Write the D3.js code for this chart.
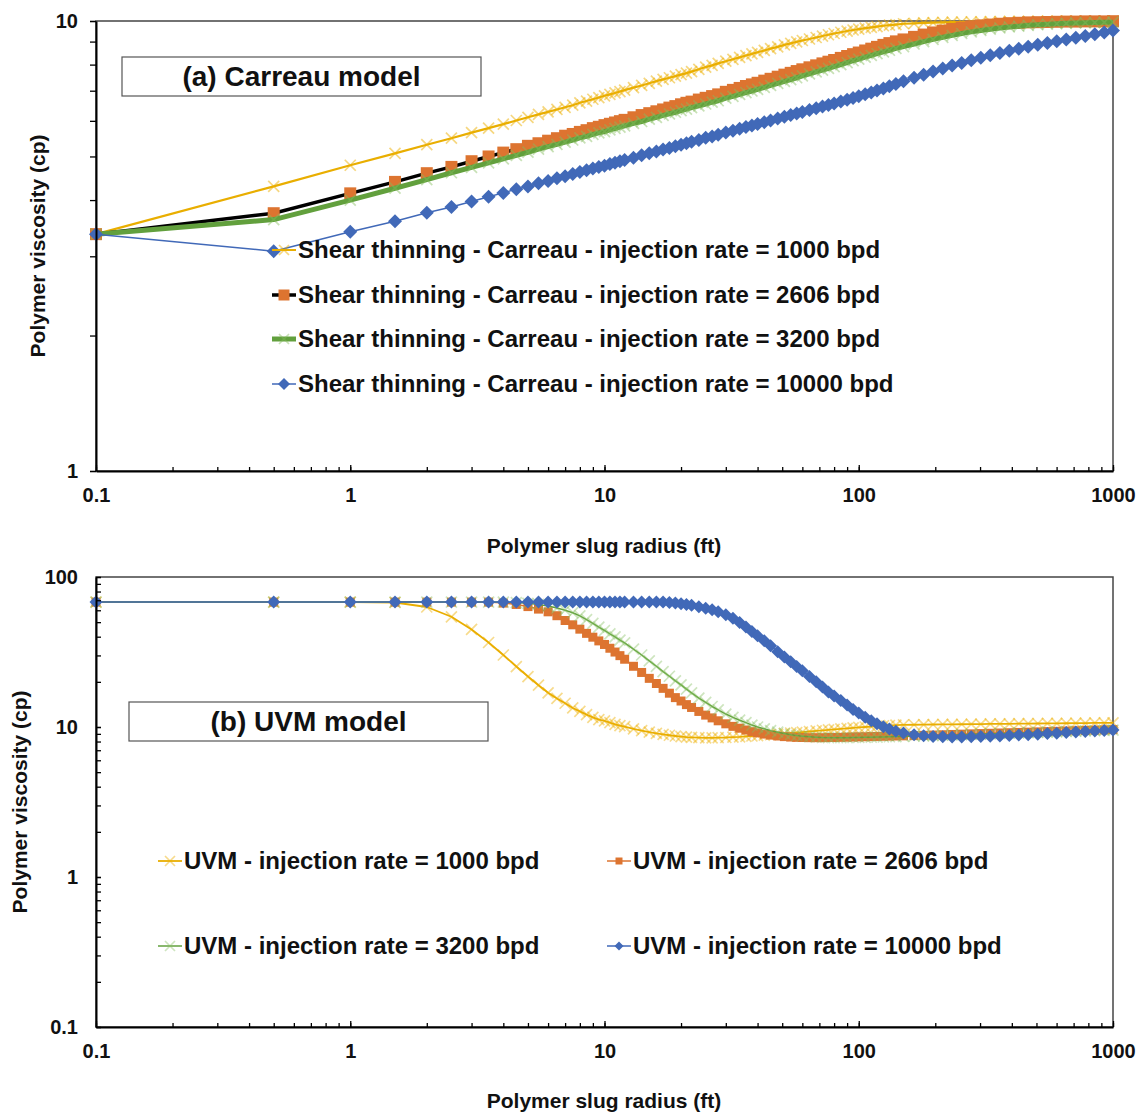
<!DOCTYPE html>
<html>
<head>
<meta charset="utf-8">
<script src="https://cdn.jsdelivr.net/npm/d3@7"></script>
<style>
  body { margin: 0; background: #fff; }
  svg { font-family: "Liberation Sans", Arial, sans-serif; font-weight: bold; }
</style>
</head>
<body>
<svg width="1143" height="1114"></svg>
<script>
(function() {
  // radial grid of the simulation (ft)
  var radius = [0.1, 0.5, 1, 1.5, 2, 2.5, 3, 3.5, 4, 4.5, 5, 5.5, 6, 6.5, 7, 7.5, 8, 8.5, 9, 9.5,
    10, 10.5, 11, 11.5, 12, 13, 14, 15, 16, 17, 18, 19, 20, 21, 22, 23.5, 25, 26.5, 28,
    30, 32, 34, 36, 38, 40, 42.5, 45, 48, 51, 54, 57, 60, 64, 68, 72, 76, 80, 85, 90, 95, 100,
    106, 112, 118, 125, 132, 140, 150,
    165, 180, 196, 214, 233, 254, 277, 302, 329, 359, 391, 426, 464, 506, 552, 601, 655, 714, 778, 848, 924, 1000];

  // (a) Carreau model, viscosity (cp)
  var carreau1000 = [3.36, 4.29, 4.78, 5.08, 5.31, 5.49, 5.65, 5.78, 5.90, 6.01, 6.11, 6.20, 6.28, 6.36, 6.43, 6.50, 6.58, 6.64, 6.70, 6.76,
    6.82, 6.87, 6.92, 6.97, 7.02, 7.11, 7.19, 7.27, 7.35, 7.42, 7.48, 7.54, 7.60, 7.66, 7.72, 7.81, 7.90, 7.97, 8.05,
    8.14, 8.22, 8.30, 8.38, 8.45, 8.52, 8.60, 8.68, 8.76, 8.85, 8.92, 8.99, 9.05, 9.12, 9.19, 9.26, 9.32, 9.38, 9.44, 9.50, 9.55, 9.59,
    9.64, 9.68, 9.72, 9.76, 9.79, 9.82, 9.86,
    9.88, 9.90, 9.92, 9.93, 9.94, 9.95, 9.96, 9.96, 9.97, 9.97, 9.98, 9.98, 9.98, 9.99, 9.99, 9.99, 9.99, 10, 10, 10, 10, 10];
  var carreau2606 = [3.36, 3.74, 4.14, 4.39, 4.59, 4.74, 4.88, 5.00, 5.10, 5.19, 5.28, 5.35, 5.42, 5.49, 5.56, 5.61, 5.67, 5.72, 5.78, 5.82,
    5.87, 5.91, 5.95, 5.99, 6.03, 6.11, 6.18, 6.24, 6.30, 6.36, 6.42, 6.47, 6.53, 6.58, 6.62, 6.69, 6.75, 6.81, 6.87,
    6.96, 7.03, 7.10, 7.17, 7.23, 7.29, 7.37, 7.44, 7.52, 7.60, 7.67, 7.74, 7.81, 7.89, 7.97, 8.05, 8.12, 8.19, 8.28, 8.36, 8.44, 8.51,
    8.60, 8.68, 8.76, 8.85, 8.93, 9.01, 9.10,
    9.22, 9.33, 9.43, 9.52, 9.60, 9.67, 9.73, 9.78, 9.82, 9.86, 9.89, 9.91, 9.93, 9.94, 9.95, 9.96, 9.97, 9.97, 9.98, 9.98, 9.98, 9.99];
  var carreau3200 = [3.36, 3.62, 4.00, 4.25, 4.44, 4.60, 4.73, 4.84, 4.94, 5.03, 5.11, 5.19, 5.26, 5.32, 5.38, 5.44, 5.50, 5.54, 5.60, 5.64,
    5.68, 5.73, 5.77, 5.81, 5.85, 5.92, 5.98, 6.05, 6.11, 6.17, 6.22, 6.27, 6.32, 6.37, 6.42, 6.48, 6.54, 6.60, 6.65,
    6.74, 6.80, 6.87, 6.93, 6.99, 7.05, 7.12, 7.19, 7.27, 7.34, 7.41, 7.48, 7.55, 7.63, 7.71, 7.78, 7.85, 7.92, 8.00, 8.08, 8.16, 8.23,
    8.31, 8.39, 8.46, 8.54, 8.61, 8.69, 8.77,
    8.89, 9.00, 9.10, 9.20, 9.29, 9.38, 9.46, 9.53, 9.59, 9.65, 9.70, 9.74, 9.78, 9.81, 9.84, 9.86, 9.88, 9.90, 9.91, 9.92, 9.93, 9.94];
  var carreau10000 = [3.36, 3.08, 3.40, 3.59, 3.75, 3.86, 3.97, 4.07, 4.15, 4.23, 4.29, 4.36, 4.41, 4.47, 4.52, 4.57, 4.62, 4.66, 4.70, 4.74,
    4.77, 4.81, 4.84, 4.88, 4.91, 4.97, 5.03, 5.08, 5.13, 5.18, 5.22, 5.27, 5.31, 5.35, 5.39, 5.44, 5.50, 5.54, 5.59,
    5.65, 5.70, 5.76, 5.81, 5.86, 5.90, 5.96, 6.01, 6.07, 6.13, 6.18, 6.23, 6.28, 6.34, 6.40, 6.46, 6.51, 6.56, 6.62, 6.68, 6.74, 6.80,
    6.87, 6.94, 7.01, 7.08, 7.16, 7.24, 7.35,
    7.48, 7.60, 7.72, 7.84, 7.96, 8.07, 8.18, 8.29, 8.39, 8.49, 8.59, 8.68, 8.77, 8.86, 8.94, 9.02, 9.10, 9.18, 9.26, 9.34, 9.43, 9.52];

  // (b) UVM model, viscosity (cp)
  var uvm1000 = [68, 68, 68, 67.6, 63.1, 54.3, 44.7, 36.6, 30.2, 25.3, 21.7, 19.0, 16.9, 15.5, 14.4, 13.4, 12.7, 12.1, 11.6, 11.2,
    11.0, 10.7, 10.4, 10.2, 10.05, 9.73, 9.46, 9.25, 9.08, 8.93, 8.81, 8.71, 8.63, 8.57, 8.53, 8.49, 8.47, 8.47, 8.49,
    8.51, 8.55, 8.59, 8.65, 8.71, 8.77, 8.83, 8.89, 8.97, 9.06, 9.12, 9.18, 9.25, 9.33, 9.42, 9.51, 9.57, 9.64, 9.73, 9.79, 9.86, 9.93,
    10.0, 10.07, 10.12, 10.19, 10.23, 10.28, 10.33,
    10.35, 10.37, 10.39, 10.40, 10.42, 10.43, 10.45, 10.46, 10.48, 10.49, 10.50, 10.52, 10.53, 10.55, 10.56, 10.58, 10.59, 10.61, 10.62, 10.64, 10.65, 10.67];
  var uvm2606 = [68, 68, 68, 68, 68, 68, 68, 68, 67.0, 65.6, 63.5, 61.1, 58.6, 55.2, 51.3, 48.0, 44.9, 42.1, 39.7, 37.5,
    35.5, 33.5, 31.6, 29.9, 28.3, 25.4, 23.1, 21.1, 19.5, 18.1, 16.8, 15.7, 14.9, 14.1, 13.5, 12.7, 12.0, 11.5, 11.0,
    10.5, 10.1, 9.82, 9.55, 9.31, 9.14, 8.97, 8.83, 8.71, 8.63, 8.57, 8.53, 8.51, 8.49, 8.49, 8.49, 8.51, 8.51, 8.53, 8.55, 8.57, 8.59,
    8.61, 8.63, 8.65, 8.67, 8.69, 8.71, 8.73,
    8.76, 8.80, 8.84, 8.88, 8.92, 8.96, 9.00, 9.04, 9.08, 9.12, 9.16, 9.20, 9.24, 9.28, 9.32, 9.36, 9.40, 9.44, 9.48, 9.52, 9.56, 9.60];
  var uvm3200 = [68, 68, 68, 68, 68, 68, 68, 68, 68, 67.5, 66.8, 65.6, 64.0, 62.1, 60.1, 57.8, 55.1, 51.9, 49.1, 46.3,
    44.0, 41.8, 39.9, 38.0, 36.4, 33.1, 30.2, 27.6, 25.4, 23.4, 21.8, 20.3, 19.1, 17.9, 16.9, 15.6, 14.6, 13.7, 13.0,
    12.2, 11.6, 11.1, 10.7, 10.3, 10.0, 9.73, 9.46, 9.23, 9.04, 8.89, 8.77, 8.69, 8.61, 8.55, 8.51, 8.49, 8.49, 8.49, 8.49, 8.51, 8.51,
    8.53, 8.55, 8.57, 8.59, 8.61, 8.63, 8.65,
    8.69, 8.73, 8.77, 8.81, 8.85, 8.89, 8.93, 8.97, 9.01, 9.05, 9.09, 9.13, 9.17, 9.21, 9.25, 9.29, 9.33, 9.37, 9.41, 9.45, 9.49, 9.53];
  var uvm10000 = [68, 68, 68, 68, 68, 68, 68, 68, 68, 68, 68, 68, 68, 68, 68, 68, 68, 68, 68, 68,
    68, 68, 68, 68, 68, 68, 68, 68, 68, 68, 67.6, 67.0, 66.4, 65.6, 64.7, 63.4, 61.9, 60.4, 58.6,
    56.0, 53.0, 49.8, 46.5, 43.4, 40.6, 37.6, 34.8, 31.8, 29.3, 27.2, 25.3, 23.7, 21.7, 20.0, 18.5, 17.1, 16.1, 15.0, 14.0, 13.1, 12.4,
    11.6, 11.0, 10.5, 10.05, 9.68, 9.38, 9.12,
    8.87, 8.73, 8.65, 8.61, 8.59, 8.59, 8.61, 8.63, 8.67, 8.71, 8.77, 8.83, 8.89, 8.95, 9.04, 9.10, 9.18, 9.25, 9.33, 9.40, 9.48, 9.55];

  var xTickValues = [0.1, 1, 10, 100, 1000];
  var yTickValuesA = [1, 10];
  var yTickValuesB = [0.1, 1, 10, 100];
  var rateLabels = ["1000", "2606", "3200", "10000"];

  var svg = d3.select("svg");
  var fmt = d3.format("~g");

  var x = d3.scaleLog().domain([0.1, 1000]).range([96, 1113]);
  var yA = d3.scaleLog().domain([1, 10]).range([471, 21]);
  var yB = d3.scaleLog().domain([0.1, 100]).range([1027, 577]);

  var YELLOW = "#E9AE00", ORANGE = "#DD7430", GREEN = "#62A03D", BLUE = "#4169B8";

  function markerPath(type, r) {
    if (type === "square") return "M" + -r + "," + -r + "h" + 2 * r + "v" + 2 * r + "h" + -2 * r + "Z";
    if (type === "diamond") return "M0," + -r + "L" + r + ",0L0," + r + "L" + -r + ",0Z";
    return "M" + -r + "," + -r + "L" + r + "," + r + "M" + -r + "," + r + "L" + r + "," + -r;
  }

  function styleMarker(sel, s, r) {
    sel.attr("d", markerPath(s.marker, r));
    if (s.marker === "x") {
      sel.attr("fill", "none").attr("stroke", s.mColor).attr("stroke-width", 1.7).attr("stroke-opacity", s.mOpacity);
    } else {
      sel.attr("fill", s.mColor).attr("stroke", "none");
    }
  }

  function drawPanel(p) {
    var g = svg.append("g");
    var y = p.y;
    var x0 = x.range()[0], x1 = x.range()[1];
    var yTop = y.range()[1], yBot = y.range()[0];

    // frame
    g.append("rect")
        .attr("x", x0).attr("y", yTop)
        .attr("width", x1 - x0).attr("height", yBot - yTop)
        .attr("fill", "none").attr("stroke", "#444").attr("stroke-width", 1.5);

    // title box
    g.append("rect")
        .attr("x", p.box[0]).attr("y", p.box[1])
        .attr("width", p.box[2]).attr("height", p.box[3])
        .attr("fill", "#fff").attr("stroke", "#555").attr("stroke-width", 1.2);
    g.append("text")
        .attr("x", p.box[0] + p.box[2] / 2).attr("y", p.box[1] + p.box[3] / 2)
        .attr("dy", "0.35em").attr("text-anchor", "middle")
        .attr("font-size", 28).attr("fill", "#111")
        .text(p.title);

    // series
    p.series.forEach(function(s) {
      var pts = radius.map(function(r, i) { return [r, s.values[i]]; });
      var line = d3.line()
          .x(function(d) { return x(d[0]); })
          .y(function(d) { return y(d[1]); });
      g.append("path")
          .datum(pts)
          .attr("fill", "none")
          .attr("stroke", s.line)
          .attr("stroke-width", s.lw)
          .attr("stroke-linejoin", "round")
          .attr("d", line);
      g.append("g").selectAll("path")
        .data(pts)
        .enter().append("path")
          .attr("transform", function(d) { return "translate(" + x(d[0]) + "," + y(d[1]) + ")"; })
          .call(styleMarker, s, s.size);
    });

    // minor ticks
    g.append("g")
        .attr("transform", "translate(0," + yBot + ")")
        .call(d3.axisBottom(x).tickValues(x.ticks()).tickSize(-4).tickSizeOuter(0).tickFormat(""))
        .call(function(a) { a.select(".domain").remove(); a.selectAll("line").attr("stroke-width", 1.3); });
    g.append("g")
        .attr("transform", "translate(" + x0 + ",0)")
        .call(d3.axisLeft(y).tickValues(y.ticks()).tickSize(p.yTickSize).tickSizeOuter(0).tickFormat(""))
        .call(function(a) { a.select(".domain").remove(); a.selectAll("line").attr("stroke-width", 1.3); });

    // major axes with labels
    var ax = g.append("g")
        .attr("transform", "translate(0," + yBot + ")")
        .call(d3.axisBottom(x).tickValues(xTickValues).tickSize(-6).tickSizeOuter(0).tickPadding(17).tickFormat(fmt));
    var ay = g.append("g")
        .attr("transform", "translate(" + x0 + ",0)")
        .call(d3.axisLeft(y).tickValues(p.yTicks).tickSize(p.yTickSize).tickSizeOuter(0)
          .tickPadding(p.yTickSize > 0 ? 12 : 18).tickFormat(fmt));
    [ax, ay].forEach(function(a) {
      a.attr("font-family", null).attr("font-size", 20);
      a.select(".domain").attr("stroke", "#000").attr("stroke-width", 2);
      a.selectAll("line").attr("stroke-width", 1.3);
      a.selectAll("text").attr("fill", "#111");
    });

    // axis titles
    g.append("text")
        .attr("x", 604).attr("y", p.xTitleY)
        .attr("dy", "0.35em").attr("text-anchor", "middle")
        .attr("font-size", 21).attr("fill", "#111")
        .text("Polymer slug radius (ft)");
    g.append("text")
        .attr("transform", "translate(" + p.yTitleX + "," + (yTop + yBot) / 2 + ") rotate(-90)")
        .attr("dy", "0.35em").attr("text-anchor", "middle")
        .attr("font-size", 21).attr("fill", "#111")
        .text("Polymer viscosity (cp)");

    // legend
    var lg = g.append("g").selectAll("g")
      .data(p.series)
      .enter().append("g")
        .attr("transform", function(d, i) { return "translate(" + p.legendPos[i][0] + "," + p.legendPos[i][1] + ")"; });
    lg.append("line")
        .attr("x1", -p.legendLine).attr("x2", -2)
        .attr("stroke", function(d) { return d.line; })
        .attr("stroke-width", function(d) { return d.legendLw; });
    lg.append("path")
        .attr("transform", "translate(" + (-p.legendLine / 2 - 1) + ",0)")
        .each(function(d) { d3.select(this).call(styleMarker, d, d.legendSize); });
    lg.append("text")
        .attr("x", 0).attr("dy", "0.35em")
        .attr("font-size", 24).attr("fill", "#111")
        .text(function(d) { return d.label; });
  }

  drawPanel({
    y: yA,
    yTicks: yTickValuesA,
    yTickSize: 6,
    title: "(a) Carreau model",
    box: [122, 57, 359, 39],
    xTitleY: 546,
    yTitleX: 38,
    legendLine: 26,
    legendPos: [[298, 250], [298, 295], [298, 339], [298, 384]],
    series: [
      {values: carreau1000, line: YELLOW, lw: 2.2, marker: "x", mColor: "#EEB000", mOpacity: 0.5, size: 5.5, legendLw: 2, legendSize: 5,
        label: "Shear thinning - Carreau - injection rate = " + rateLabels[0] + " bpd"},
      {values: carreau2606, line: "#000", lw: 3.5, marker: "square", mColor: ORANGE, size: 6, legendLw: 3.5, legendSize: 5.5,
        label: "Shear thinning - Carreau - injection rate = " + rateLabels[1] + " bpd"},
      {values: carreau3200, line: GREEN, lw: 5, marker: "x", mColor: "#84BD5E", mOpacity: 0.45, size: 5.5, legendLw: 5, legendSize: 5,
        label: "Shear thinning - Carreau - injection rate = " + rateLabels[2] + " bpd"},
      {values: carreau10000, line: BLUE, lw: 1.5, marker: "diamond", mColor: BLUE, size: 7, legendLw: 1.5, legendSize: 6,
        label: "Shear thinning - Carreau - injection rate = " + rateLabels[3] + " bpd"}
    ]
  });

  drawPanel({
    y: yB,
    yTicks: yTickValuesB,
    yTickSize: -5,
    title: "(b) UVM model",
    box: [129, 702, 359, 39],
    xTitleY: 1101,
    yTitleX: 20,
    legendLine: 26,
    legendPos: [[184, 861], [633, 861], [184, 946], [633, 946]],
    series: [
      {values: uvm1000, line: YELLOW, lw: 1.8, marker: "x", mColor: "#EEB000", mOpacity: 0.45, size: 5.5, legendLw: 1.8, legendSize: 5,
        label: "UVM - injection rate = " + rateLabels[0] + " bpd"},
      {values: uvm2606, line: ORANGE, lw: 1.5, marker: "square", mColor: ORANGE, size: 4.5, legendLw: 1.5, legendSize: 3.5,
        label: "UVM - injection rate = " + rateLabels[1] + " bpd"},
      {values: uvm3200, line: GREEN, lw: 1.5, marker: "x", mColor: "#84BD5E", mOpacity: 0.4, size: 5.5, legendLw: 1.5, legendSize: 5,
        label: "UVM - injection rate = " + rateLabels[2] + " bpd"},
      {values: uvm10000, line: BLUE, lw: 1.5, marker: "diamond", mColor: BLUE, size: 6.5, legendLw: 1.5, legendSize: 4.5,
        label: "UVM - injection rate = " + rateLabels[3] + " bpd"}
    ]
  });
})();
</script>
</body>
</html>
